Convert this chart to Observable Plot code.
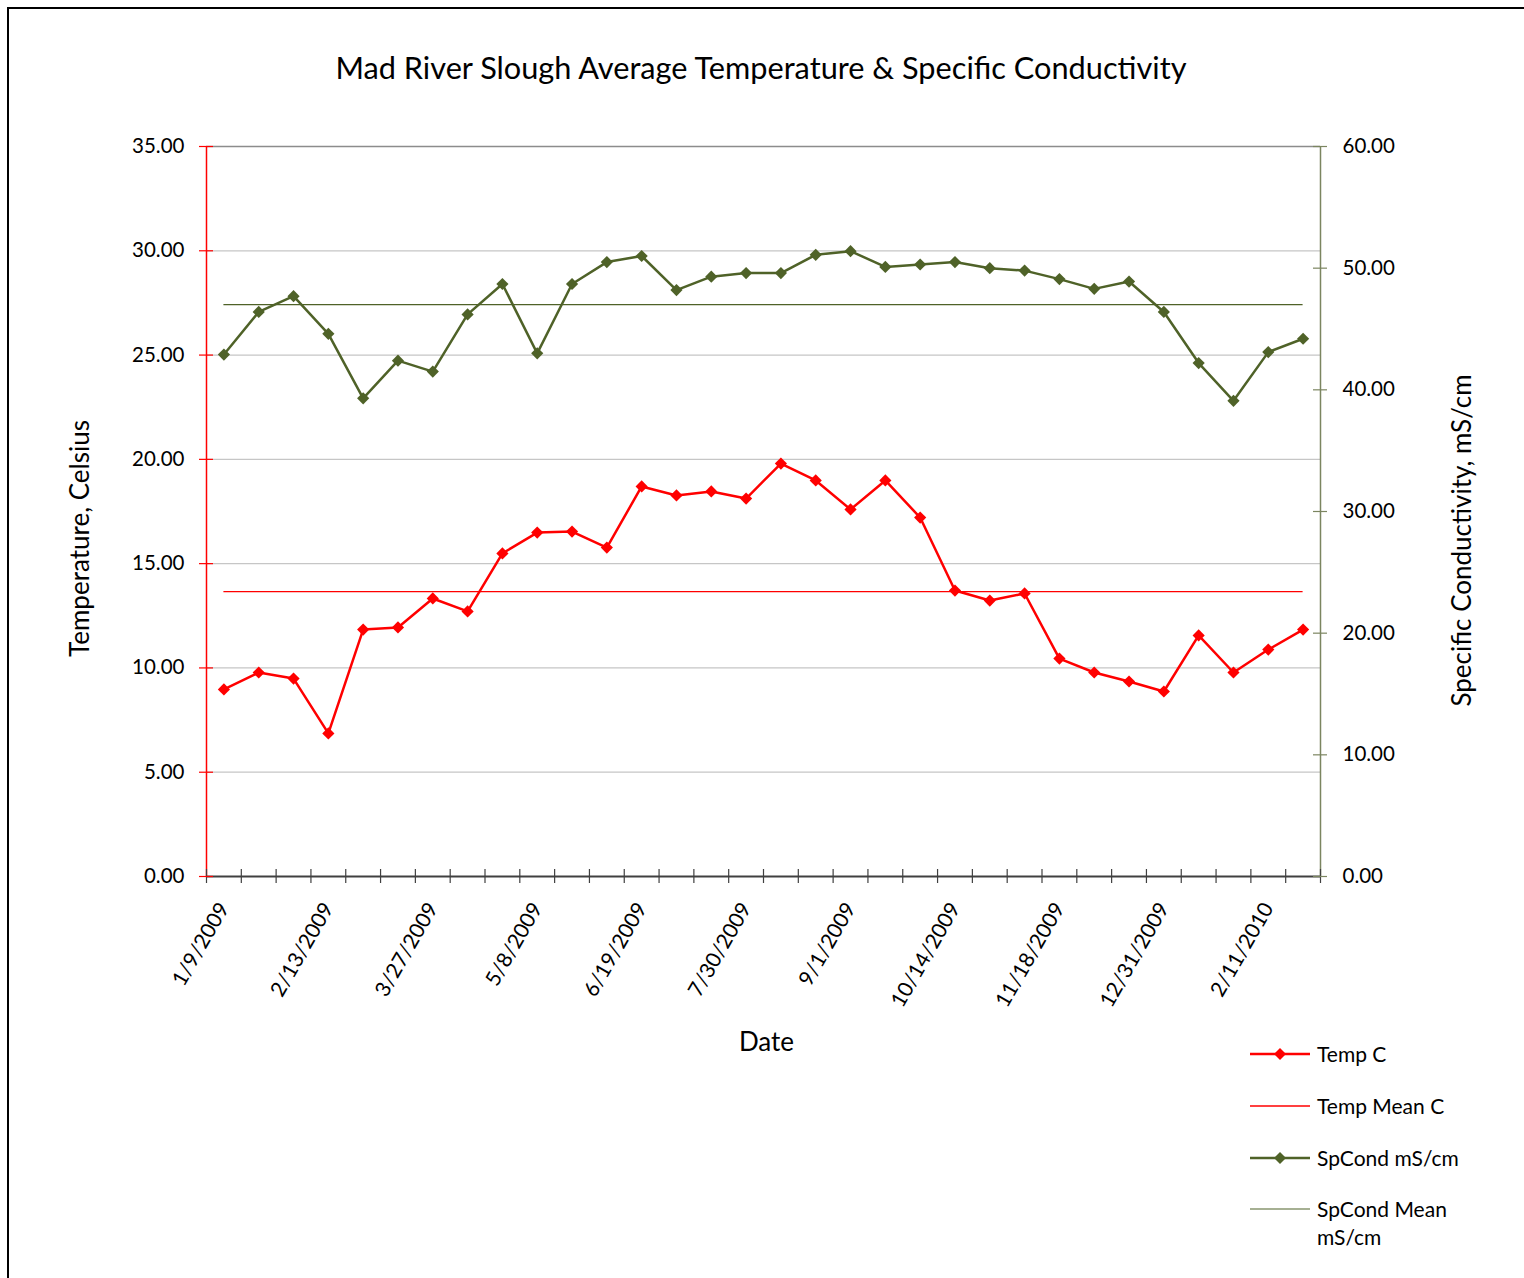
<!DOCTYPE html>
<html>
<head>
<meta charset="utf-8">
<script src="https://cdn.jsdelivr.net/npm/d3@7"></script>
<script src="https://cdn.jsdelivr.net/npm/@observablehq/plot@0.6"></script>
<style>
  html, body { margin: 0; padding: 0; background: #fff; }
  #wrap { position: relative; width: 1524px; height: 1278px; overflow: hidden; font-family: Lato, "Open Sans", sans-serif; color: #000; }
  #frame { position: absolute; left: 7px; top: 7px; width: 1530px; height: 1290px; border-left: 2px solid #000; border-top: 2px solid #000; box-sizing: border-box; }
  #title { position: absolute; left: 204px; width: 1114px; top: 49px; text-align: center; font-size: 30.7px; white-space: nowrap; }
  #chart { position: absolute; left: 0; top: 0; }
  .leg { position: absolute; left: 1250px; font-size: 21px; line-height: 28px; }
  .leg svg { position: absolute; left: 0; top: 7px; }
  .leg span { position: absolute; left: 67px; top: 0; white-space: nowrap; }
</style>
</head>
<body>
<div id="wrap">
  <div id="frame"></div>
  <div id="chart"></div>
  <div id="title">Mad River Slough Average Temperature &amp; Specific Conductivity</div>
  <div id="legend"></div>
</div>
<script>
// ---- data ----
const dates = [
  "1/9/2009","1/22/2009","2/2/2009","2/13/2009","2/27/2009","3/13/2009","3/27/2009","4/10/2009",
  "4/24/2009","5/8/2009","5/22/2009","6/5/2009","6/19/2009","7/2/2009","7/16/2009","7/30/2009",
  "8/13/2009","8/21/2009","9/1/2009","9/15/2009","9/30/2009","10/14/2009","10/28/2009","11/6/2009",
  "11/18/2009","12/2/2009","12/16/2009","12/31/2009","1/14/2010","1/28/2010","2/11/2010","2/25/2010"
];
const tempC = [
  8.97, 9.78, 9.49, 6.86, 11.84, 11.94, 13.33, 12.71,
  15.49, 16.49, 16.54, 15.77, 18.70, 18.27, 18.46, 18.12,
  19.80, 18.99, 17.60, 18.99, 17.21, 13.71, 13.23, 13.57,
  10.45, 9.78, 9.35, 8.87, 11.56, 9.78, 10.88, 11.84
];
const spCond = [
  42.9, 46.4, 47.7, 44.6, 39.3, 42.4, 41.5, 46.2,
  48.7, 43.0, 48.7, 50.5, 51.0, 48.2, 49.3, 49.6,
  49.6, 51.1, 51.4, 50.1, 50.3, 50.5, 50.0, 49.8,
  49.1, 48.3, 48.9, 46.4, 42.2, 39.1, 43.1, 44.2
];
const tempMean = 13.66;
const spCondMean = 47.0;
const leftTicks = [0, 5, 10, 15, 20, 25, 30, 35];
const rightTicks = [0, 10, 20, 30, 40, 50, 60];
const labelEvery = 3;

const legendItems = [
  {label: "Temp C", color: "#ff0000", width: 2.5, marker: true},
  {label: "Temp Mean C", color: "#ff0000", width: 1.3, marker: false},
  {label: "SpCond mS/cm", color: "#4f6228", width: 2.5, marker: true},
  {label: "SpCond Mean<br>mS/cm", color: "#4f6228", width: 1.2, marker: false}
];

// ---- derived ----
const leftMax = 35, rightMax = 60;
const toLeft = v => v * leftMax / rightMax;
const tempRows = tempC.map((v, i) => ({i, v, date: dates[i]}));
const condRows = spCond.map((v, i) => ({i, v: toLeft(v), date: dates[i]}));
const labelIdx = dates.map((d, i) => i).filter(i => i % labelEvery === 0);
const bounds = d3.range(dates.length + 1).map(i => i - 0.5);
const n = dates.length;

const RED = "#ff0000", OLIVE = "#4f6228", RAXIS = "#7b8560";

const chart = Plot.plot({
  width: 1524,
  height: 1278,
  marginLeft: 206,
  marginRight: 204,
  marginTop: 146,
  marginBottom: 402,
  x: {type: "linear", domain: [-0.5, n - 0.5], axis: null},
  y: {domain: [0, leftMax], axis: null},
  style: {fontFamily: "Lato, 'Open Sans', sans-serif", fontSize: "20px", color: "#000", background: "transparent", overflow: "visible"},
  marks: [
    Plot.ruleY(leftTicks.filter(t => t > 0 && t < leftMax), {stroke: "#c6c6c6", strokeWidth: 1.2}),
    Plot.ruleY([leftMax], {stroke: "#8c8c8c", strokeWidth: 1.5}),
    // mean lines
    Plot.ruleY([tempMean], {x1: 0, x2: n - 1, stroke: RED, strokeWidth: 1.3}),
    Plot.ruleY([toLeft(spCondMean)], {x1: 0, x2: n - 1, stroke: OLIVE, strokeWidth: 1.2}),
    // axes lines
    Plot.ruleY([0], {stroke: "#404040", strokeWidth: 2}),
    Plot.ruleX([-0.5], {stroke: RED, strokeWidth: 1.5}),
    Plot.ruleX([n - 0.5], {stroke: RAXIS, strokeWidth: 1.5}),
    // tick marks
    Plot.ruleX(bounds, {y1: 0, y2: 0, insetTop: -7, insetBottom: -7, stroke: "#404040", strokeWidth: 1.2}),
    Plot.ruleY(leftTicks, {x1: -0.5, x2: -0.5, insetLeft: -7, insetRight: -7, stroke: RED, strokeWidth: 1.2}),
    Plot.ruleY(rightTicks.map(toLeft), {x1: n - 0.5, x2: n - 0.5, insetLeft: -7, insetRight: -7, stroke: RAXIS, strokeWidth: 1.2}),
    // tick labels
    Plot.axisY(leftTicks, {anchor: "left", tickSize: 0, tickPadding: 22, tickFormat: d => d.toFixed(2), label: null, fontSize: 20.5}),
    Plot.axisY(rightTicks.map(toLeft), {anchor: "right", tickSize: 0, tickPadding: 22, tickFormat: d => (d * rightMax / leftMax).toFixed(2), label: null, fontSize: 20.5}),
    Plot.axisX(labelIdx, {anchor: "bottom", tickSize: 0, tickPadding: 28, tickRotate: -60, tickFormat: i => dates[i], label: null, fontSize: 21}),
    // axis titles
    Plot.text(["Temperature, Celsius"], {frameAnchor: "left", textAnchor: "middle", rotate: -90, dx: -126, dy: 27, fontSize: 26}),
    Plot.text(["Specific Conductivity, mS/cm"], {frameAnchor: "right", textAnchor: "middle", rotate: -90, dx: 142, dy: 29, fontSize: 26}),
    Plot.text(["Date"], {frameAnchor: "bottom", dx: 3, dy: 174, fontSize: 26}),
    // series
    Plot.line(tempRows, {x: "i", y: "v", stroke: RED, strokeWidth: 2.5}),
    Plot.dot(tempRows, {x: "i", y: "v", symbol: "diamond2", r: 5.5, fill: RED, stroke: null}),
    Plot.line(condRows, {x: "i", y: "v", stroke: OLIVE, strokeWidth: 2.5}),
    Plot.dot(condRows, {x: "i", y: "v", symbol: "diamond2", r: 5.5, fill: OLIVE, stroke: null})
  ]
});
document.getElementById("chart").appendChild(chart);

// legend
const legTops = [1040, 1092, 1144, 1195];
const legend = document.getElementById("legend");
legendItems.forEach((it, k) => {
  const div = document.createElement("div");
  div.className = "leg";
  div.style.top = legTops[k] + "px";
  const marker = it.marker ? `<path d="M30,1 L36,7 L30,13 L24,7 Z" fill="${it.color}"/>` : "";
  div.innerHTML = `<svg width="62" height="14"><line x1="0" x2="60" y1="7" y2="7" stroke="${it.color}" stroke-width="${it.width}"/>${marker}</svg><span>${it.label}</span>`;
  legend.appendChild(div);
});
</script>
</body>
</html>
